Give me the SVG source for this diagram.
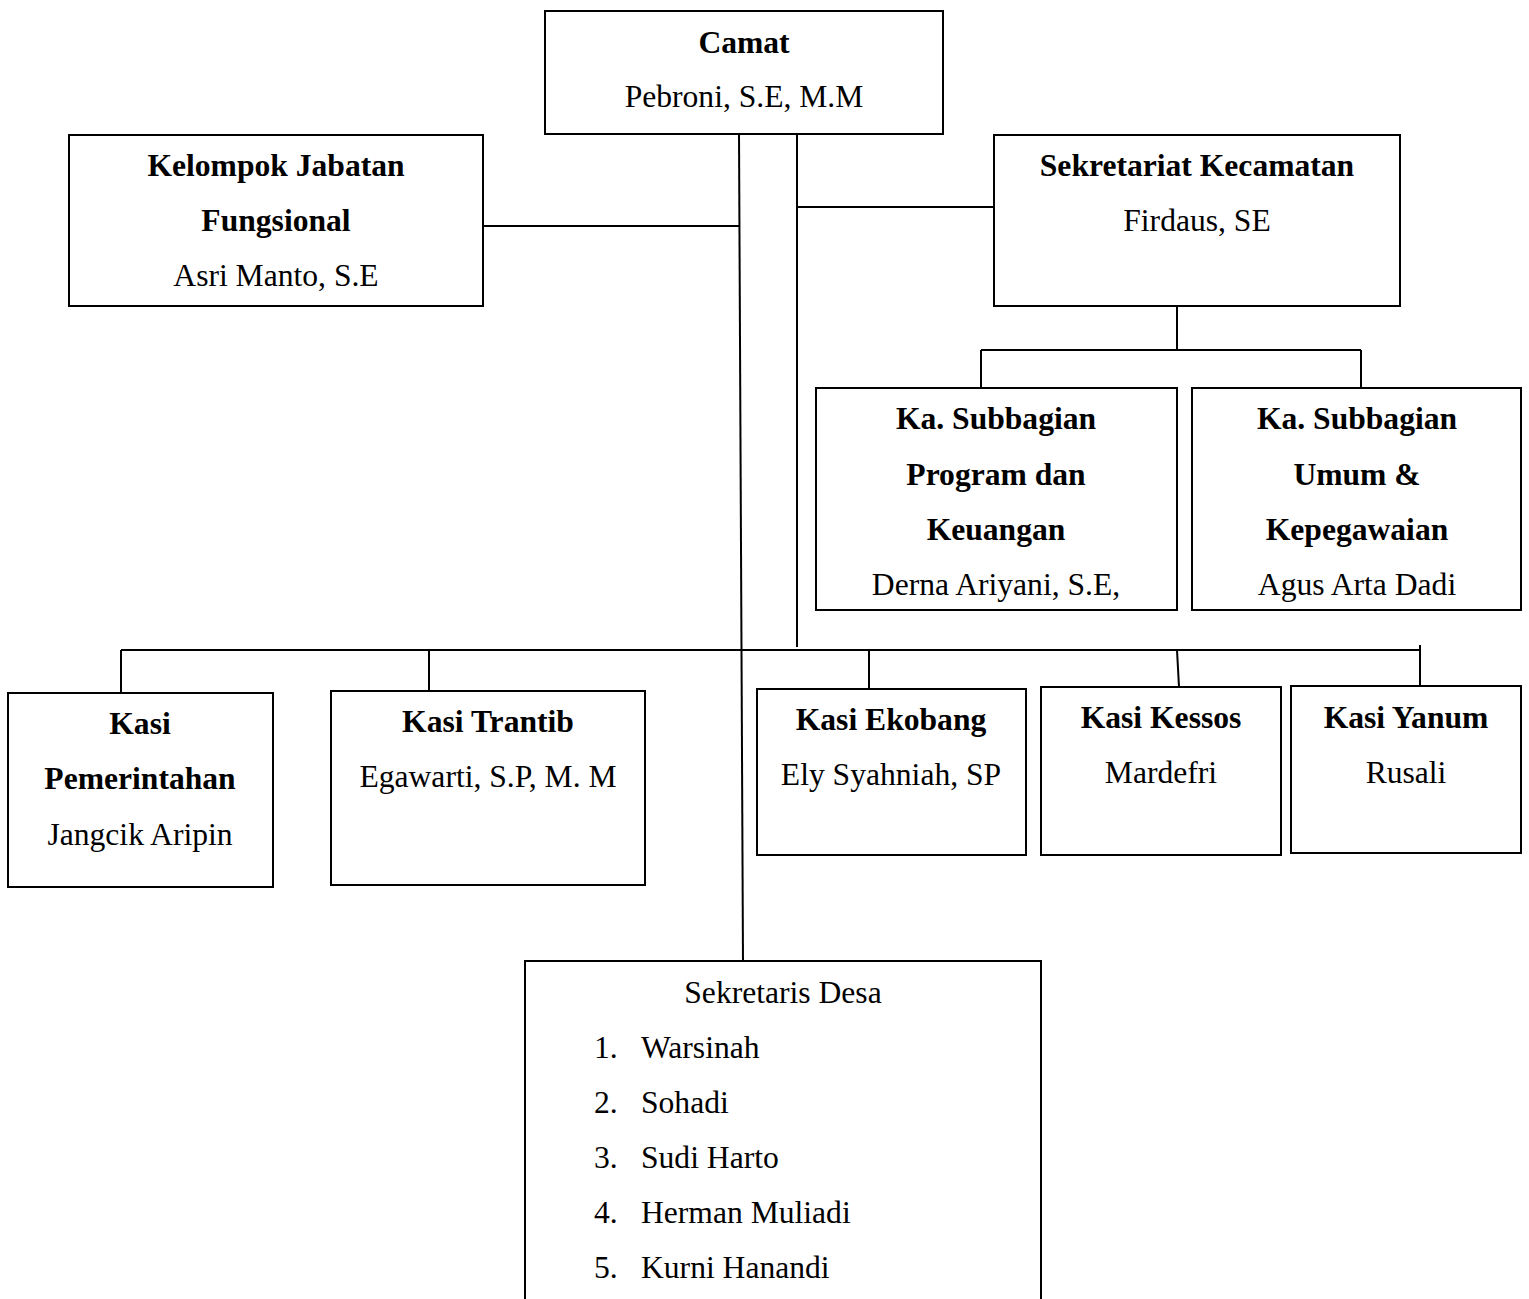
<svg xmlns="http://www.w3.org/2000/svg" width="1529" height="1299" viewBox="0 0 1529 1299">
<style>
.box{fill:#fff;stroke:#000;stroke-width:2}
.ln{fill:none;stroke:#000;stroke-width:2}
text{font-family:"Liberation Serif","Times New Roman",serif;font-size:31.6px;fill:#000;text-anchor:middle}
.b{font-weight:bold}
.l{text-anchor:start}
</style>
<rect width="1529" height="1299" fill="#fff"/>
<g id="connectors">
<path class="ln" d="M739 134 L743 961"/>
<path class="ln" d="M797 134 L797 647"/>
<path class="ln" d="M483 226 L739 226"/>
<path class="ln" d="M797 207 L994 207"/>
<path class="ln" d="M1177 306 L1177 350 M981 350 L1361 350 M981 350 L981 388 M1361 350 L1361 388"/>
<path class="ln" d="M121 650 L1420 650"/>
<path class="ln" d="M121 650 L121 693 M429 650 L429 691 M869 650 L869 689 M1177 650 L1179 687 M1420 645 L1420 686"/>
</g>
<g id="camat">
<rect class="box" x="545" y="11" width="398" height="123"/>
<text class="b" x="744" y="53">Camat</text>
<text x="744" y="107">Pebroni, S.E, M.M</text>
</g>
<g id="kelompok">
<rect class="box" x="69" y="135" width="414" height="171"/>
<text class="b" x="276" y="176">Kelompok Jabatan</text>
<text class="b" x="276" y="231">Fungsional</text>
<text x="276" y="286">Asri Manto, S.E</text>
</g>
<g id="sekretariat">
<rect class="box" x="994" y="135" width="406" height="171"/>
<text class="b" x="1197" y="176">Sekretariat Kecamatan</text>
<text x="1197" y="231">Firdaus, SE</text>
</g>
<g id="subbag-program">
<rect class="box" x="816" y="388" width="361" height="222"/>
<text class="b" x="996" y="429">Ka. Subbagian</text>
<text class="b" x="996" y="485">Program dan</text>
<text class="b" x="996" y="540">Keuangan</text>
<text x="996" y="595">Derna Ariyani, S.E,</text>
</g>
<g id="subbag-umum">
<rect class="box" x="1192" y="388" width="329" height="222"/>
<text class="b" x="1357" y="429">Ka. Subbagian</text>
<text class="b" x="1357" y="485">Umum &amp;</text>
<text class="b" x="1357" y="540">Kepegawaian</text>
<text x="1357" y="595">Agus Arta Dadi</text>
</g>
<g id="kasi-pemerintahan">
<rect class="box" x="8" y="693" width="265" height="194"/>
<text class="b" x="140" y="734">Kasi</text>
<text class="b" x="140" y="789">Pemerintahan</text>
<text x="140" y="845">Jangcik Aripin</text>
</g>
<g id="kasi-trantib">
<rect class="box" x="331" y="691" width="314" height="194"/>
<text class="b" x="488" y="732">Kasi Trantib</text>
<text x="488" y="787">Egawarti, S.P, M. M</text>
</g>
<g id="kasi-ekobang">
<rect class="box" x="757" y="689" width="269" height="166"/>
<text class="b" x="891" y="730">Kasi Ekobang</text>
<text x="891" y="785">Ely Syahniah, SP</text>
</g>
<g id="kasi-kessos">
<rect class="box" x="1041" y="687" width="240" height="168"/>
<text class="b" x="1161" y="728">Kasi Kessos</text>
<text x="1161" y="783">Mardefri</text>
</g>
<g id="kasi-yanum">
<rect class="box" x="1291" y="686" width="230" height="167"/>
<text class="b" x="1406" y="728">Kasi Yanum</text>
<text x="1406" y="783">Rusali</text>
</g>
<g id="sekretaris-desa">
<path class="box" d="M525 1302 L525 961 L1041 961 L1041 1302"/>
<text x="783" y="1003">Sekretaris Desa</text>
<text class="l" x="594" y="1058">1.</text><text class="l" x="641" y="1058">Warsinah</text>
<text class="l" x="594" y="1113">2.</text><text class="l" x="641" y="1113">Sohadi</text>
<text class="l" x="594" y="1168">3.</text><text class="l" x="641" y="1168">Sudi Harto</text>
<text class="l" x="594" y="1223">4.</text><text class="l" x="641" y="1223">Herman Muliadi</text>
<text class="l" x="594" y="1278">5.</text><text class="l" x="641" y="1278">Kurni Hanandi</text>
</g>
</svg>
